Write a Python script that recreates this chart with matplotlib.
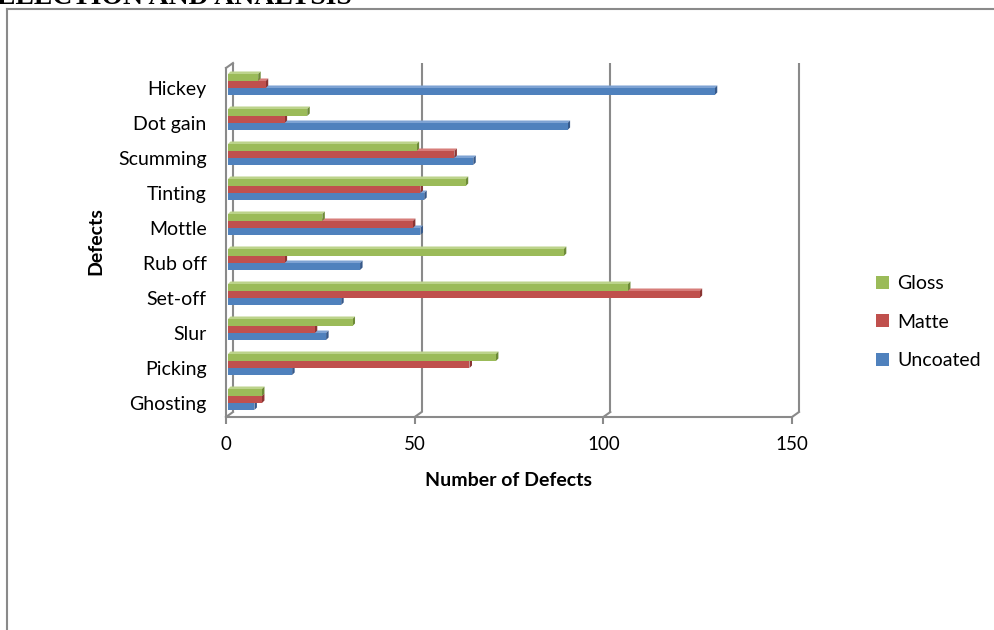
import matplotlib
matplotlib.use("Agg")
import matplotlib.pyplot as plt
from matplotlib.patches import Polygon, Rectangle
from matplotlib.lines import Line2D

# defect counts per paper type, bottom category first
defects = ["Ghosting", "Picking", "Slur", "Set-off", "Rub off",
           "Mottle", "Tinting", "Scumming", "Dot gain", "Hickey"]
gloss = [9, 71, 33, 106, 89, 25, 63, 50, 21, 8]
matte = [9, 64, 23, 125, 15, 49, 51, 60, 15, 10]
uncoated = [7, 17, 26, 30, 35, 51, 52, 65, 90, 129]
xticks = [0, 50, 100, 150]

plt.rcParams['font.family'] = ['Lato', 'DejaVu Sans']

W, H = 994, 630
fig = plt.figure(figsize=(W / 100, H / 100), dpi=100)

# plot area in pixels: floor front edge at y=417, front top at y=68
ax = fig.add_axes([226 / W, 1 - 417 / H, 566 / W, 349 / H])
xlo, xhi = 0, 150
ylo, yhi = -0.4, 9.571
ax.set_xlim(xlo, xhi)
ax.set_ylim(ylo, yhi)
sx = 566 / (xhi - xlo)   # px per x unit
sy = 349 / (yhi - ylo)   # px per y unit

gray = "#8a8a8a"
lw = 1.5

# back wall offset for the pseudo-3d frame
bx, by = 7 / sx, 5 / sy
yback_top = yhi + by
for t in xticks:
    ax.plot([t + bx, t + bx], [ylo + by, yback_top], color=gray, lw=lw, clip_on=False, zorder=1,
            solid_capstyle='butt')
    ax.plot([t, t + bx], [ylo, ylo + by], color=gray, lw=lw, clip_on=False, zorder=1)
ax.plot([xlo, xhi], [ylo, ylo], color=gray, lw=lw, clip_on=False, zorder=1)
ax.plot([xlo, xlo], [ylo, yhi], color=gray, lw=lw, clip_on=False, zorder=1)
ax.plot([xlo, xlo + bx], [yhi, yhi + by], color=gray, lw=lw, clip_on=False, zorder=1)

# series styling: front, top, side faces
series = [
    ("Uncoated", uncoated, "#4f81bd", "#7da2d3", "#36598a"),
    ("Matte", matte, "#c0504d", "#d77d7a", "#8b3533"),
    ("Gloss", gloss, "#9bbb59", "#bcd38b", "#6d8a37"),
]
bar_h = 0.2
x0 = 2 / sx
dx, dy = 2.5 / sx, 2.5 / sy

handles = {}
for k, (name, vals, front, top, side) in enumerate(series):
    for i, v in enumerate(vals):
        yb = i - 0.2 + k * bar_h
        yt = yb + bar_h
        xe = x0 + v
        z = 2 + k * 0.1 + (len(vals) - i) * 0.001
        ax.add_patch(Polygon([(x0, yt), (xe, yt), (xe + dx, yt + dy), (x0 + dx, yt + dy)],
                             closed=True, facecolor=top, edgecolor='none', zorder=z))
        ax.add_patch(Polygon([(xe, yb), (xe + dx, yb + dy), (xe + dx, yt + dy), (xe, yt)],
                             closed=True, facecolor=side, edgecolor='none', zorder=z))
        ax.add_patch(Rectangle((x0, yb), v, bar_h, facecolor=front, edgecolor='none', zorder=z))
    handles[name] = Rectangle((0, 0), 1, 1, facecolor=front, edgecolor='none')

for s in ax.spines.values():
    s.set_visible(False)

ax.set_xticks(xticks)
ax.set_xticklabels([str(t) for t in xticks], fontsize=13.5)
ax.tick_params(axis='x', length=5, width=lw, color=gray, pad=9)
ax.set_yticks(range(len(defects)))
ax.set_yticklabels(defects, fontsize=14)
ax.tick_params(axis='y', length=0, pad=14)

fig.text(509 / W, 1 - 480 / H, "Number of Defects", fontsize=14, fontweight='bold',
         ha='center', va='center')
fig.text(96 / W, 1 - 241 / H, "Defects", fontsize=14, fontweight='bold',
         rotation=90, ha='center', va='center')

fig.legend([handles["Gloss"], handles["Matte"], handles["Uncoated"]],
           ["Gloss", "Matte", "Uncoated"], loc='center left',
           bbox_to_anchor=(876 / W, 1 - 322 / H), frameon=False, fontsize=14,
           handlelength=0.65, handleheight=0.65, handletextpad=0.45,
           labelspacing=1.1, borderpad=0, borderaxespad=0)

# outer frame and clipped section heading
fig.add_artist(Line2D([7 / W, 7 / W], [0, 1 - 9 / H], transform=fig.transFigure,
                      color=gray, lw=lw))
fig.add_artist(Line2D([7 / W, 1], [1 - 9 / H, 1 - 9 / H], transform=fig.transFigure,
                      color=gray, lw=lw))
fig.text(-3 / W, 1 - 4 / H, "ELECTION AND ANALYSIS", family='Liberation Serif',
         fontweight='bold', fontsize=20, ha='left', va='baseline')

fig.savefig("out.png", dpi=100)
